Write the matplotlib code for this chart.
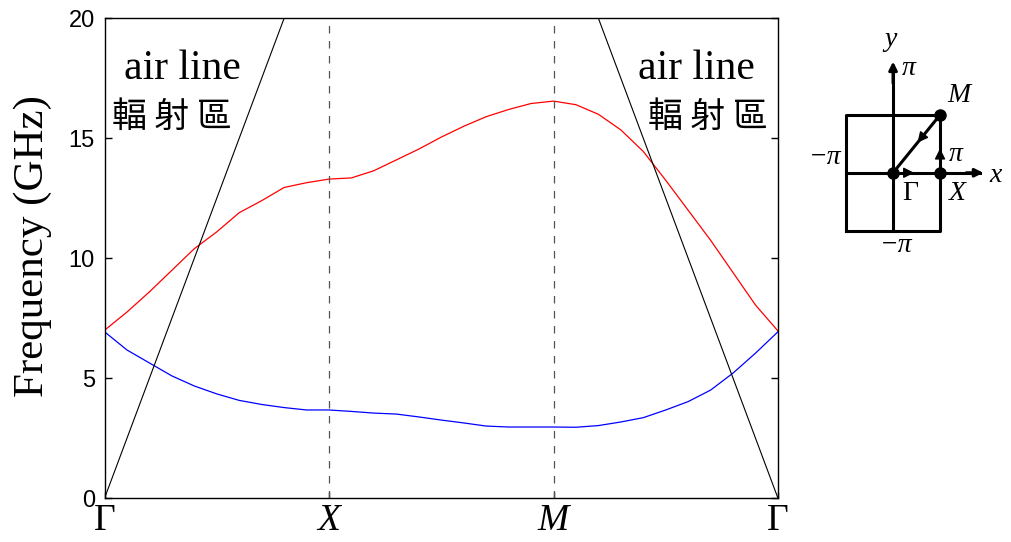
import matplotlib.pyplot as plt

# k path: 0 = Gamma, 1 = X, 2 = M, 3 = Gamma (10 steps per segment)
k = [i / 10 for i in range(31)]

band2 = [7.0, 7.76, 8.6, 9.5, 10.4, 11.1, 11.9, 12.4, 12.95, 13.15, 13.3,
         13.35, 13.65, 14.1, 14.55, 15.05, 15.5, 15.9, 16.2, 16.45, 16.55,
         16.4, 16.0, 15.35, 14.45, 13.25, 12.0, 10.75, 9.4, 8.05, 6.97]
band1 = [6.94, 6.18, 5.64, 5.1, 4.68, 4.35, 4.08, 3.91, 3.78, 3.68, 3.68,
         3.62, 3.55, 3.51, 3.39, 3.26, 3.14, 3.01, 2.97, 2.97, 2.97,
         2.96, 3.03, 3.18, 3.36, 3.68, 4.03, 4.51, 5.22, 6.05, 6.94]

# light lines near Gamma on both sides
air_left_k = [0, 0.8]
air_left_f = [0, 20]
air_right_k = [3, 2.2]
air_right_f = [0, 20]

sym_pos = [0, 1, 2, 3]
sym_names = ['Γ', 'X', 'M', 'Γ']
yticks = [0, 5, 10, 15, 20]

serif = 'Liberation Serif'
sans = 'Liberation Sans'
cjk = ['Noto Sans CJK TC', 'DejaVu Sans']

W, H = 1011, 542
fig = plt.figure(figsize=(W / 100, H / 100), dpi=100)
ax = fig.add_axes([104.5 / W, 1 - 498.3 / H, (778 - 104.5) / W, (498.3 - 18.3) / H])

ax.plot(k, band2, color='red', lw=0.9)
ax.plot(k, band1, color='blue', lw=0.9)
ax.plot(air_left_k, air_left_f, color='black', lw=0.8)
ax.plot(air_right_k, air_right_f, color='black', lw=0.8)
for p in sym_pos[1:3]:
    ax.axvline(p, color='#555555', lw=0.9, ls=(0, (6, 6)))

ax.set_xlim(0, 3)
ax.set_ylim(0, 20)
ax.set_yticks(yticks)
ax.set_yticklabels([str(v) for v in yticks], fontfamily=sans, fontsize=17)
ax.set_xticks(sym_pos)
ax.set_xticklabels(sym_names, fontfamily=serif, fontsize=27)
for lab in ax.get_xticklabels()[1:3]:
    lab.set_fontstyle('italic')
ax.tick_params(axis='y', direction='in', right=True, length=5, pad=7, width=1)
ax.tick_params(axis='x', direction='in', length=4, pad=4, width=1)
for s in ax.spines.values():
    s.set_linewidth(1.0)

ax.set_ylabel('Frequency (GHz)', fontfamily=serif, fontsize=31)
ax.yaxis.set_label_coords(-0.078, 0.526)

# text in the two light-line regions
ax.text(0.347, 17.47, 'air line', fontfamily=serif, fontsize=30, ha='center', va='baseline')
ax.text(0.298, 15.87, '輻 射 區', family=cjk, fontsize=25, ha='center', va='center')
ax.text(2.636, 17.47, 'air line', fontfamily=serif, fontsize=30, ha='center', va='baseline')
ax.text(2.686, 15.87, '輻 射 區', family=cjk, fontsize=25, ha='center', va='center')

# Brillouin zone sketch
bz = fig.add_axes([800 / W, 1 - 270 / H, 211 / W, 250 / H])
bz.set_xlim(-1.98, 2.51)
bz.set_ylim(-1.68, 2.64)
bz.axis('off')

zone_x = [-1, 1, 1, -1, -1]
zone_y = [-1, -1, 1, 1, -1]
lw = 2.2
bz.plot(zone_x, zone_y, color='black', lw=lw, solid_capstyle='projecting')
bz.plot([0, 1], [0, 1], color='black', lw=lw)
bz.plot([0, 0], [-1, 1.85], color='black', lw=lw)
bz.plot([-1, 1.85], [0, 0], color='black', lw=lw)
head = dict(arrowstyle='-|>', color='black', lw=lw, mutation_scale=12)
bz.annotate('', xy=(0, 1.97), xytext=(0, 1.5), arrowprops=head)
bz.annotate('', xy=(1.98, 0), xytext=(1.5, 0), arrowprops=head)
mid = dict(arrowstyle='-|>', color='black', lw=1.0, mutation_scale=16, shrinkA=0, shrinkB=0)
bz.annotate('', xy=(0.45, 0), xytext=(0.2, 0), arrowprops=mid)
bz.annotate('', xy=(1, 0.42), xytext=(1, 0.2), arrowprops=mid)
bz.annotate('', xy=(0.52, 0.52), xytext=(0.75, 0.75), arrowprops=mid)
bz.plot([0, 1, 1], [0, 0, 1], ls='none', marker='o', color='black', markersize=8)

lab = dict(fontfamily=serif, fontsize=20, ha='center', va='center')
bz.text(-0.06, 2.3, 'y', style='italic', **lab)
bz.text(0.34, 1.81, 'π', style='italic', **lab)
bz.text(1.40, 1.34, 'M', style='italic', **lab)
bz.text(1.34, 0.32, 'π', style='italic', **lab)
bz.text(-1.45, 0.26, '−π', style='italic', **lab)
bz.text(2.18, -0.04, 'x', style='italic', **lab)
bz.text(0.36, -0.36, 'Γ', **lab)
bz.text(1.38, -0.36, 'X', style='italic', **lab)
bz.text(0.06, -1.25, '−π', style='italic', **lab)

fig.savefig('out.png', dpi=100)
